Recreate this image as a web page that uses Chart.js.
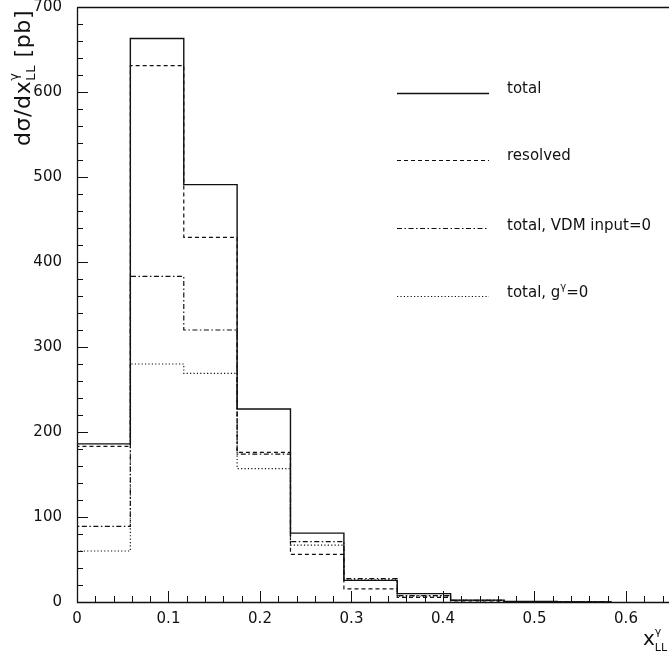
<!DOCTYPE html>
<html lang="en">
<head>
  <meta charset="UTF-8">
  <title>d sigma / dx histogram</title>
  <script src="https://cdn.jsdelivr.net/npm/chart.js@4.4.0/dist/chart.umd.min.js"></script>
  <style>
    html, body { margin: 0; padding: 0; background: #fff; }
    .chart-container { position: relative; width: 669px; height: 654px; }
  </style>
</head>
<body>
  <div class="chart-container">
    <canvas id="histChart"></canvas>
  </div>

  <script>
    // bin edges in x_LL^gamma
    const binEdges = [0, 0.0583, 0.1167, 0.175, 0.2333, 0.2917, 0.35, 0.4083, 0.4667, 0.525, 0.5833];

    // values per bin [pb]
    const totalVals    = [186, 663, 491, 227, 81, 25.5, 9.9, 2.2, 0.6, 0.1];
    const resolvedVals = [183, 631, 429, 176, 56, 15.5, 5.5, 1.2, 0.3, 0.1];
    const vdmZeroVals  = [89, 383, 320, 174, 71, 27.5, 7.5, 2.0, 0.5, 0.1];
    const gZeroVals    = [60, 280, 269, 157, 67, 26, 6.8, 1.8, 0.5, 0.1];

    const seriesLabels = ['total', 'resolved', 'total, VDM input=0', 'total, g\u03B3=0'];
    const xTicks = [0, 0.1, 0.2, 0.3, 0.4, 0.5, 0.6];
    const yTicks = [0, 100, 200, 300, 400, 500, 600, 700];

    const FONT = '"DejaVu Sans", Verdana, sans-serif';
    const INK = '#111';

    // histogram outline points, used with stepped: 'before'
    function histPoints(vals) {
      const pts = [{ x: binEdges[0], y: 0 }];
      vals.forEach((v, i) => pts.push({ x: binEdges[i], y: v }));
      pts.push({ x: binEdges[vals.length], y: 0 });
      return pts;
    }

    const styles = [
      { dash: [], width: 1.4 },
      { dash: [4, 3], width: 1.2 },
      { dash: [5, 2.5, 1.5, 2.5], width: 1.2 },
      { dash: [1.2, 2.2], width: 1.2 }
    ];
    const allVals = [totalVals, resolvedVals, vdmZeroVals, gZeroVals];

    const datasets = allVals.map((vals, i) => ({
      label: seriesLabels[i],
      data: histPoints(vals),
      borderColor: INK,
      borderWidth: styles[i].width,
      borderDash: styles[i].dash,
      stepped: 'before',
      pointRadius: 0,
      fill: false
    }));

    // draws text with a raised/lowered piece: parts = [[text, size, dy], ...]
    function drawParts(ctx, parts, x, y) {
      let cx = x, lastW = 0;
      parts.forEach(([t, size, dy, stack]) => {
        ctx.font = size + 'px ' + FONT;
        if (stack) cx -= lastW;
        ctx.fillText(t, cx, y + dy);
        lastW = ctx.measureText(t).width;
        cx += lastW;
      });
    }

    // inward ticks, frame, y labels, legend and axis titles
    const decorations = {
      id: 'decorations',
      afterDraw(chart) {
        const ctx = chart.ctx;
        const xs = chart.scales.x, ys = chart.scales.y;
        const a = chart.chartArea;
        ctx.save();
        ctx.strokeStyle = INK;
        ctx.lineWidth = 1.3;
        ctx.setLineDash([]);

        // frame (left, bottom, top)
        ctx.beginPath();
        ctx.moveTo(a.left + 0.5, a.top + 0.5);
        ctx.lineTo(a.left + 0.5, a.bottom + 0.5);
        ctx.lineTo(a.right, a.bottom + 0.5);
        ctx.moveTo(a.left + 0.5, a.top + 0.5);
        ctx.lineTo(a.right, a.top + 0.5);
        ctx.stroke();

        // y ticks: major every 100, minor every 20
        ctx.lineWidth = 1;
        ctx.beginPath();
        for (let v = 0; v <= 700; v += 20) {
          const y = Math.round(ys.getPixelForValue(v)) + 0.5;
          const len = (v % 100 === 0) ? 11 : 6;
          ctx.moveTo(a.left, y);
          ctx.lineTo(a.left + len, y);
        }
        // x ticks: major every 0.1, minor every 0.02
        for (let k = 0; k <= 32; k++) {
          const v = k * 0.02;
          if (v > xs.max) break;
          const x = Math.round(xs.getPixelForValue(v)) + 0.5;
          const len = (k % 5 === 0) ? 11 : 6;
          ctx.moveTo(x, a.bottom);
          ctx.lineTo(x, a.bottom - len);
        }
        ctx.stroke();

        // y tick labels
        ctx.fillStyle = INK;
        ctx.font = '15px ' + FONT;
        ctx.textAlign = 'right';
        ctx.textBaseline = 'middle';
        yTicks.forEach(v => ctx.fillText(String(v), 62, ys.getPixelForValue(v)));
        ctx.textAlign = 'left';

        // legend
        const legY = [93, 160, 228, 296];
        seriesLabels.forEach((lab, i) => {
          ctx.beginPath();
          ctx.lineWidth = styles[i].width;
          ctx.setLineDash(styles[i].dash);
          ctx.moveTo(397, legY[i] + 0.5);
          ctx.lineTo(489, legY[i] + 0.5);
          ctx.stroke();
        });
        ctx.setLineDash([]);
        ctx.font = '15px ' + FONT;
        ctx.fillText('total', 507, 89);
        ctx.fillText('resolved', 507, 156);
        ctx.fillText('total, VDM input=0', 507, 226);
        drawParts(ctx, [['total, g', 15, 0], ['\u03B3', 10, -6], ['=0', 15, 0]], 507, 293);

        // x title: x^gamma_LL
        ctx.textBaseline = 'alphabetic';
        drawParts(ctx, [['x', 20, 0], ['\u03B3', 11, -10], ['LL', 11, 6, true]], 643, 645);

        // y title, rotated
        ctx.translate(30, 146);
        ctx.rotate(-Math.PI / 2);
        ctx.letterSpacing = '0.6px';
        drawParts(ctx, [['d\u03C3/dx', 22, 0], ['\u03B3', 13, -12], ['LL', 13, 5, true], [' [pb]', 22, 0]], 0, 0);
        ctx.restore();
      }
    };

    const ctx = document.getElementById('histChart').getContext('2d');
    new Chart(ctx, {
      type: 'line',
      data: { datasets },
      options: {
        responsive: true,
        maintainAspectRatio: false,
        animation: false,
        layout: { padding: { top: 7, right: 0, left: 0, bottom: 0 } },
        plugins: {
          legend: { display: false },
          tooltip: { enabled: false }
        },
        scales: {
          x: {
            type: 'linear',
            min: 0,
            max: 0.647,
            afterFit: s => { s.height = 52; },
            afterBuildTicks: s => { s.ticks = xTicks.map(v => ({ value: v })); },
            grid: { display: false, drawTicks: false },
            border: { display: false },
            ticks: {
              color: INK,
              font: { family: FONT, size: 15 },
              padding: 8,
              maxRotation: 0,
              callback: v => String(v)
            }
          },
          y: {
            min: 0,
            max: 700,
            afterFit: s => { s.width = 77; },
            grid: { display: false, drawTicks: false },
            border: { display: false },
            ticks: { display: false }
          }
        }
      },
      plugins: [decorations]
    });
  </script>
</body>
</html>
